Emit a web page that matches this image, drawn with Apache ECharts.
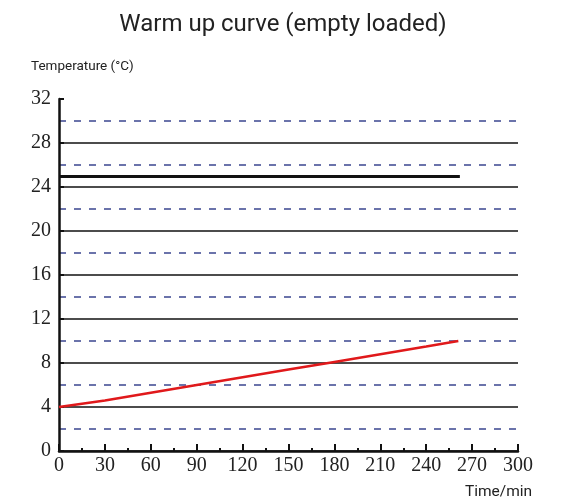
<!DOCTYPE html>
<html><head><meta charset="utf-8">
<script src="https://cdn.jsdelivr.net/npm/echarts@6/dist/echarts.min.js"></script>
<style>html,body{margin:0;padding:0;background:#fff}#c{width:566px;height:500px}</style>
</head><body><div id="c"></div>
<script>
const timeMin = [0, 30, 60, 90, 120, 150, 180, 210, 240, 261];
const warmupTemp = [4.0, 4.6, 5.3, 6.0, 6.7, 7.4, 8.1, 8.8, 9.5, 10.0];
const refLineTemp = 25;
const refLineEnd = 262;
const xTicks = [0, 30, 60, 90, 120, 150, 180, 210, 240, 270, 300];
const yTicks = [0, 4, 8, 12, 16, 20, 24, 28, 32];

const chart = echarts.init(document.getElementById('c'));
const serif = 'Liberation Serif';
chart.setOption({
  backgroundColor: '#fff',
  animation: false,
  title: [
    {text: 'Warm up curve (empty loaded)', left: 'center', top: 8,
     textStyle: {fontFamily: 'Roboto', fontWeight: 'normal', fontSize: 24, color: '#222'}},
    {text: 'Temperature (°C)', left: 26, top: 55,
     textStyle: {fontFamily: 'Roboto', fontWeight: 'normal', fontSize: 13.5, color: '#222'}},
    {text: 'Time/min', left: 460, top: 479,
     textStyle: {fontFamily: 'Roboto', fontWeight: 'normal', fontSize: 15.5, color: '#222'}}
  ],
  grid: {left: 59, right: 48, top: 99, bottom: 49},
  xAxis: {
    type: 'value', min: xTicks[0], max: xTicks[xTicks.length - 1], interval: 30,
    axisLine: {show: true, lineStyle: {color: '#111', width: 2.5}},
    axisTick: {show: true, inside: true, length: 7, lineStyle: {color: '#111', width: 2}},
    minorTick: {show: true, splitNumber: 2, length: 3, lineStyle: {color: '#111', width: 2}},
    axisLabel: {fontFamily: serif, fontSize: 20, color: '#222', margin: 5},
    splitLine: {show: false}
  },
  yAxis: {
    type: 'value', min: yTicks[0], max: yTicks[yTicks.length - 1], interval: 4,
    axisLine: {show: true, lineStyle: {color: '#111', width: 2.5}},
    axisTick: {show: true, inside: true, length: 5, lineStyle: {color: '#111', width: 2}},
    axisLabel: {fontFamily: serif, fontSize: 20, color: '#222', margin: 8},
    splitLine: {show: true, lineStyle: {color: ['#111','#111','#111','#111','#111','#111','#111','#111','rgba(0,0,0,0)'], width: 1.6}},
    minorTick: {show: false, splitNumber: 2},
    minorSplitLine: {show: true, lineStyle: {color: '#3b4590', width: 1.6, type: [7, 8]}}
  },
  series: [
    {
      type: 'line', data: timeMin.map((t, i) => [t, warmupTemp[i]]),
      symbol: 'none', lineStyle: {color: '#e0191b', width: 2.5},
      markLine: {
        silent: true, symbol: 'none', label: {show: false},
        lineStyle: {color: '#111', width: 2.8, type: 'solid'},
        data: [[{coord: [0, refLineTemp]}, {coord: [refLineEnd, refLineTemp]}]]
      }
    }
  ]
});
</script></body></html>
